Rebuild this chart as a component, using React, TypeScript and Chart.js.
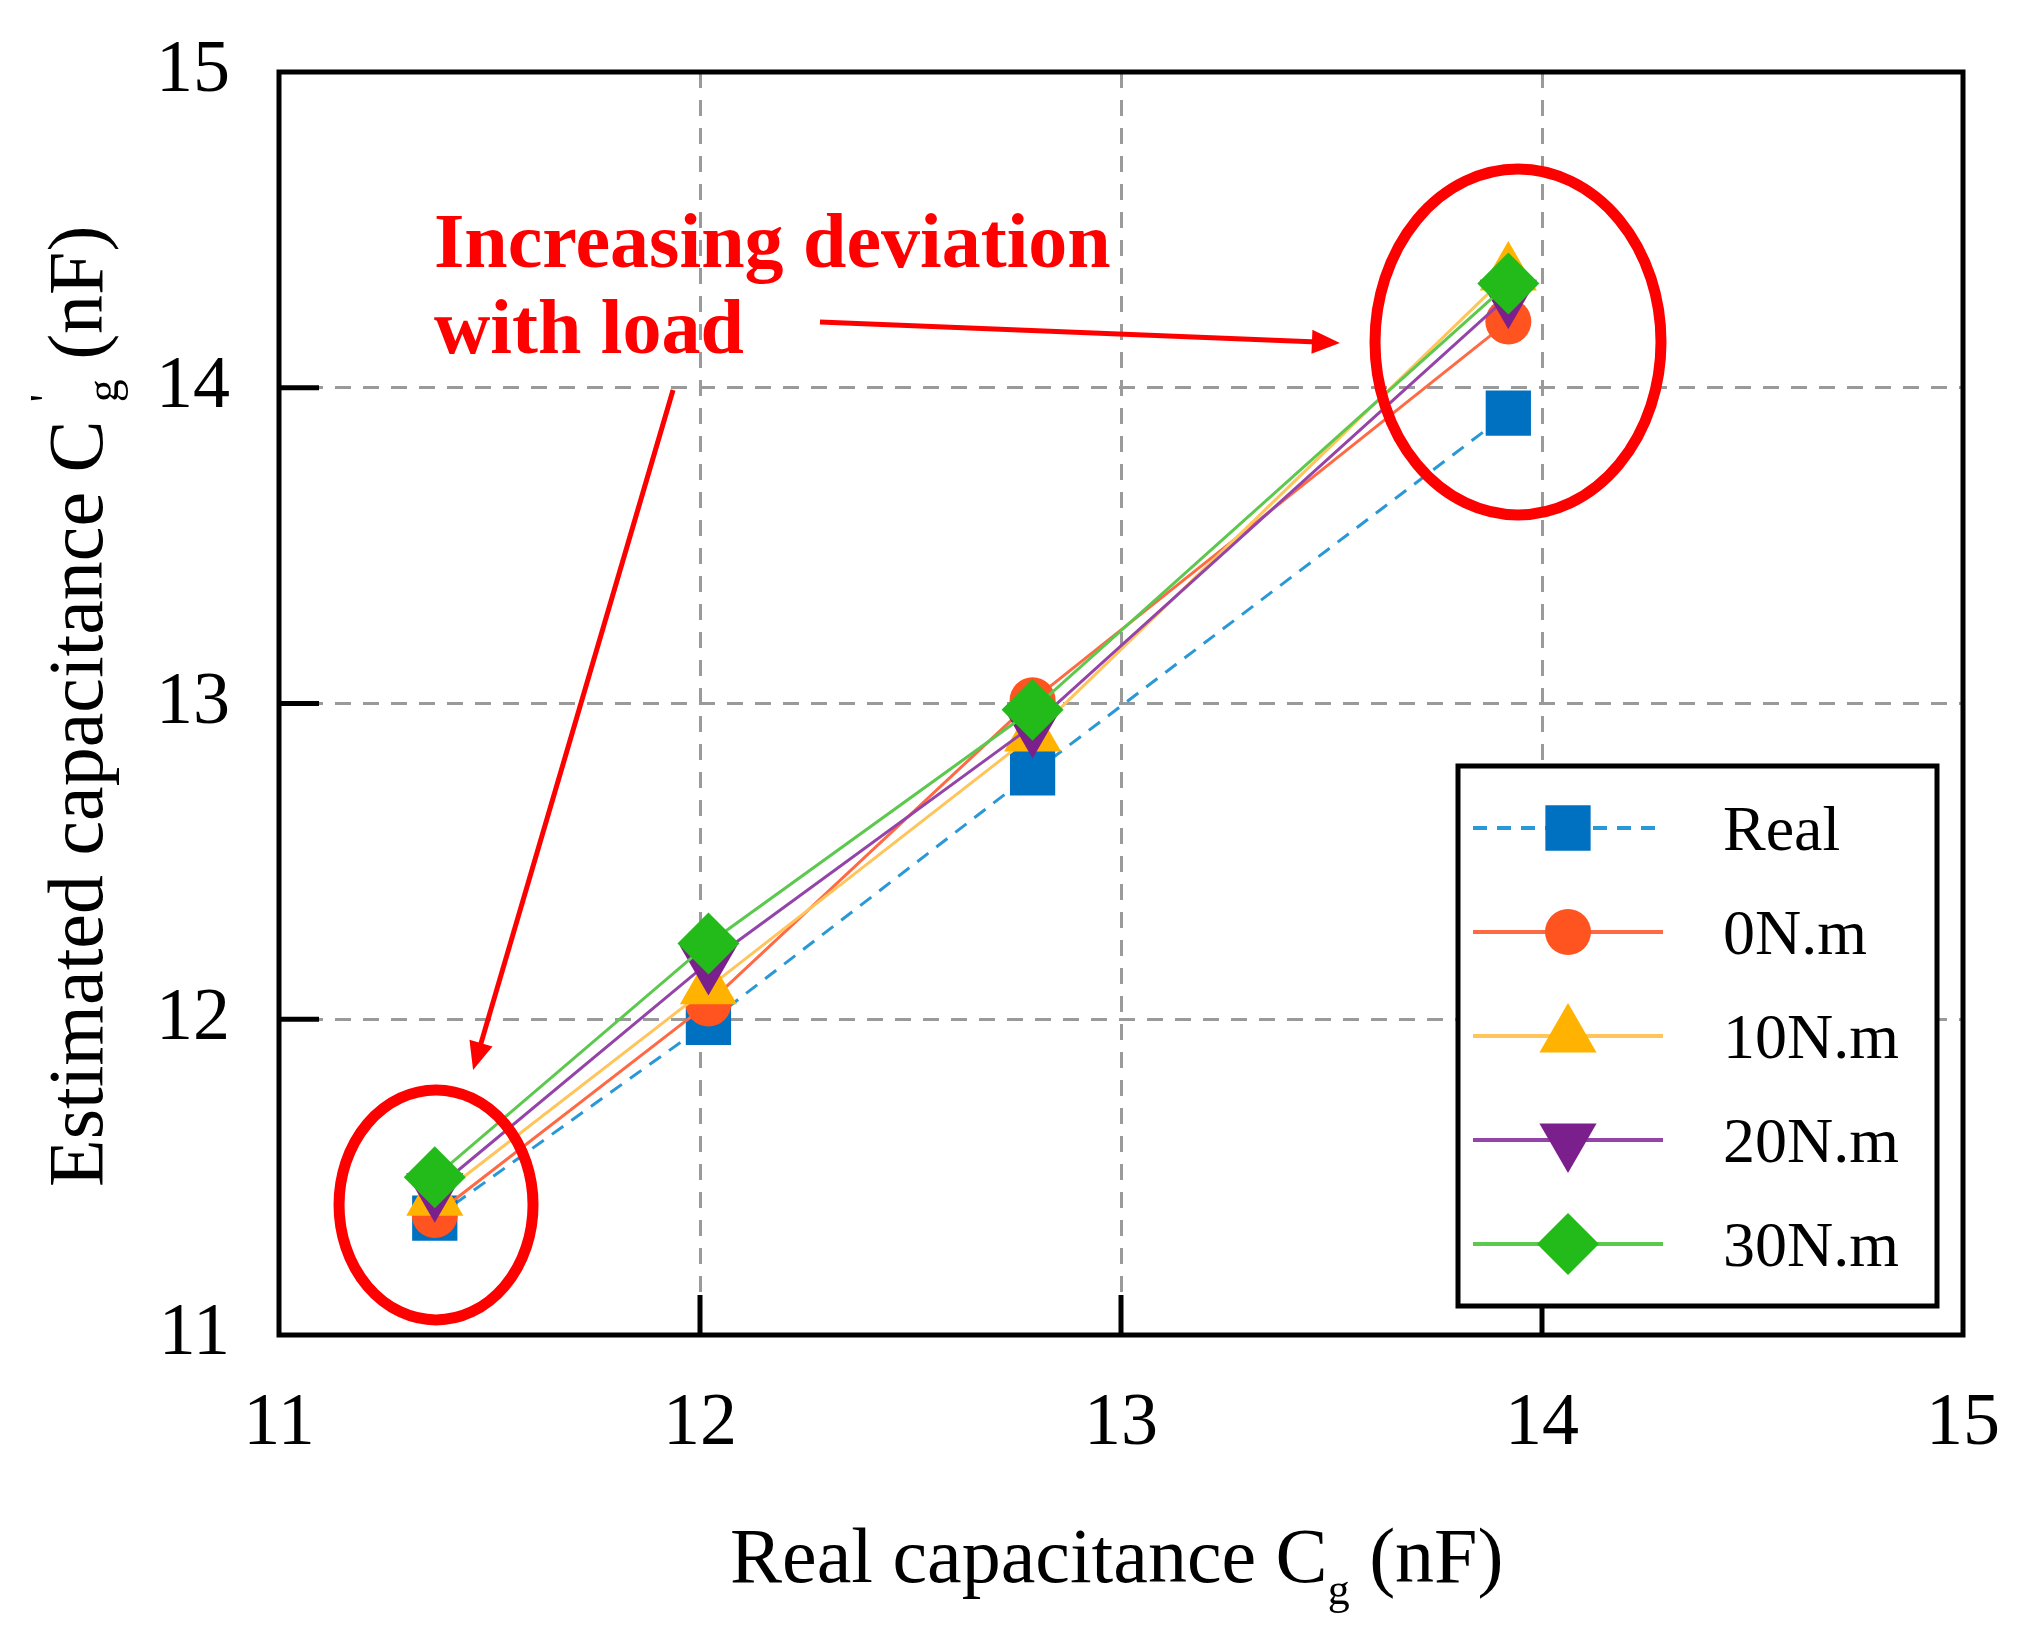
import { useEffect, useRef } from "react"
import { Chart, registerables } from "chart.js"
import { drawPoint } from "chart.js/helpers"

Chart.register(...registerables)

const FONT = "'Liberation Serif', 'Times New Roman', serif"

// x positions: real capacitance Cg (nF)
const realCap = [11.37, 12.02, 12.79, 13.92]
// estimated capacitance per load
const estReal = [11.37, 11.99, 12.78, 13.92]
const est0 = [11.38, 12.05, 13.01, 14.21]
const est10 = [11.43, 12.1, 12.9, 14.36]
const est20 = [11.46, 12.18, 12.93, 14.29]
const est30 = [11.5, 12.24, 12.98, 14.33]

const seriesLabels = ["Real", "0N.m", "10N.m", "20N.m", "30N.m"]
const axisTicks = [11, 12, 13, 14, 15]

// annotation anchors in data units
const ellipses = [
  { x: 11.373, y: 11.412, rx: 97, ry: 115 },
  { x: 13.943, y: 14.145, rx: 143, ry: 173 },
]
const arrows = [
  { from: [12.285, 14.208], to: [13.52, 14.142] },
  { from: [11.936, 13.993], to: [11.461, 11.839] },
]
const noteLines = ["Increasing deviation", "with load"]
const noteAnchor = { x: 11.368, y: 14.382 }

const pts = (ys: number[]) => realCap.map((x, i) => ({ x, y: ys[i] }))

type Part =
  | { t: string; size: number; dy?: number }
  | { sup: string; sub: string; size: number; supDy: number; subDy: number; gap?: number }

function drawRich(ctx: CanvasRenderingContext2D, parts: Part[], x: number, y: number) {
  let cx = x
  for (const p of parts) {
    if ("t" in p) {
      ctx.font = `${p.size}px ${FONT}`
      ctx.fillText(p.t, cx, y + (p.dy || 0))
      cx += ctx.measureText(p.t).width
    } else {
      cx += p.gap || 0
      ctx.font = `${p.size}px ${FONT}`
      ctx.fillText(p.sup, cx, y + p.supDy)
      ctx.fillText(p.sub, cx, y + p.subDy)
      cx += Math.max(ctx.measureText(p.sup).width, ctx.measureText(p.sub).width)
    }
  }
}

function arrow(ctx: CanvasRenderingContext2D, x1: number, y1: number, x2: number, y2: number) {
  const a = Math.atan2(y2 - y1, x2 - x1)
  const len = 28
  const hw = 12
  ctx.beginPath()
  ctx.moveTo(x1, y1)
  ctx.lineTo(x2 - Math.cos(a) * len * 0.8, y2 - Math.sin(a) * len * 0.8)
  ctx.stroke()
  ctx.beginPath()
  ctx.moveTo(x2, y2)
  ctx.lineTo(x2 - Math.cos(a) * len - Math.sin(a) * hw, y2 - Math.sin(a) * len + Math.cos(a) * hw)
  ctx.lineTo(x2 - Math.cos(a) * len + Math.sin(a) * hw, y2 - Math.sin(a) * len - Math.cos(a) * hw)
  ctx.closePath()
  ctx.fill()
}

const decorations = {
  id: "decorations",
  afterDraw(chart: any) {
    const { ctx, chartArea: a } = chart
    const xs = chart.scales.x
    const ys = chart.scales.y
    ctx.save()

    // inward ticks
    ctx.strokeStyle = "#000"
    ctx.lineWidth = 5
    ctx.setLineDash([])
    xs.ticks.forEach((t: any) => {
      if (t.value <= xs.min || t.value >= xs.max) return
      const px = xs.getPixelForValue(t.value)
      ctx.beginPath()
      ctx.moveTo(px, a.bottom)
      ctx.lineTo(px, a.bottom - 40)
      ctx.stroke()
    })
    ys.ticks.forEach((t: any) => {
      if (t.value <= ys.min || t.value >= ys.max) return
      const py = ys.getPixelForValue(t.value)
      ctx.beginPath()
      ctx.moveTo(a.left, py)
      ctx.lineTo(a.left + 40, py)
      ctx.stroke()
    })
    ctx.strokeRect(a.left, a.top, a.right - a.left, a.bottom - a.top)

    // red annotations
    ctx.strokeStyle = "#ff0000"
    ctx.fillStyle = "#ff0000"
    ctx.lineWidth = 11
    ellipses.forEach((e) => {
      ctx.beginPath()
      ctx.ellipse(xs.getPixelForValue(e.x), ys.getPixelForValue(e.y), e.rx, e.ry, 0, 0, Math.PI * 2)
      ctx.stroke()
    })
    ctx.lineWidth = 5
    arrows.forEach((r) => {
      arrow(
        ctx,
        xs.getPixelForValue(r.from[0]),
        ys.getPixelForValue(r.from[1]),
        xs.getPixelForValue(r.to[0]),
        ys.getPixelForValue(r.to[1])
      )
    })
    ctx.font = `bold 78px ${FONT}`
    ctx.textAlign = "left"
    ctx.textBaseline = "alphabetic"
    const nx = xs.getPixelForValue(noteAnchor.x)
    const ny = ys.getPixelForValue(noteAnchor.y)
    noteLines.forEach((s, i) => ctx.fillText(s, nx, ny + i * 86))

    // legend
    const box = { l: 1458, t: 766, r: 1937, b: 1306 }
    ctx.fillStyle = "#fff"
    ctx.fillRect(box.l, box.t, box.r - box.l, box.b - box.t)
    ctx.strokeStyle = "#000"
    ctx.lineWidth = 5
    ctx.strokeRect(box.l, box.t, box.r - box.l, box.b - box.t)
    chart.data.datasets.forEach((ds: any, i: number) => {
      const cy = 828 + i * 104
      ctx.strokeStyle = ds.borderColor
      ctx.lineWidth = 4
      ctx.setLineDash(ds.borderDash || [])
      ctx.beginPath()
      ctx.moveTo(1473, cy)
      ctx.lineTo(1663, cy)
      ctx.stroke()
      ctx.setLineDash([])
      ctx.fillStyle = ds.pointBackgroundColor
      drawPoint(ctx, { pointStyle: ds.pointStyle, radius: ds.pointRadius, rotation: ds.pointRotation || 0, borderWidth: 0 }, 1568, cy)
      ctx.fillStyle = "#000"
      ctx.font = `64px ${FONT}`
      ctx.fillText(ds.label, 1723, cy + 22)
    })

    // axis titles
    ctx.fillStyle = "#000"
    drawRich(ctx, [
      { t: "Real capacitance C", size: 78 },
      { t: "g", size: 44, dy: 22 },
      { t: " (nF)", size: 78 },
    ], 730, 1582)
    ctx.save()
    ctx.translate(102, 1187)
    ctx.rotate(-Math.PI / 2)
    drawRich(ctx, [
      { t: "Estimated capacitance C", size: 78 },
      { sup: "'", sub: "g", size: 46, supDy: -40, subDy: 16, gap: 18 },
      { t: " (nF)", size: 78 },
    ], 0, 0)
    ctx.restore()

    ctx.restore()
  },
}

export default function App() {
  const canvasRef = useRef<HTMLCanvasElement>(null)
  const chartRef = useRef<Chart | null>(null)

  useEffect(() => {
    if (!canvasRef.current) return
    if (chartRef.current) chartRef.current.destroy()

    const axisFont = { family: FONT, size: 74 }
    const grid = { color: "#9a9a9a", lineWidth: 3, drawTicks: false }
    const border = { display: false, dash: [16, 12] }
    const noOverflow = (s: any) => {
      s.paddingTop = 0
      s.paddingBottom = 0
      s.paddingLeft = 0
      s.paddingRight = 0
    }

    chartRef.current = new Chart(canvasRef.current, {
      type: "line",
      data: {
        datasets: [
          {
            label: seriesLabels[0],
            data: pts(estReal),
            borderColor: "#2a98d6",
            borderWidth: 3,
            borderDash: [14, 10],
            pointStyle: "rect",
            pointRadius: 32,
            pointBackgroundColor: "#0070c0",
            pointBorderWidth: 0,
            order: 5,
          },
          {
            label: seriesLabels[1],
            data: pts(est0),
            borderColor: "#ff6a45",
            borderWidth: 3,
            pointStyle: "circle",
            pointRadius: 23,
            pointBackgroundColor: "#ff5420",
            pointBorderWidth: 0,
            order: 4,
          },
          {
            label: seriesLabels[2],
            data: pts(est10),
            borderColor: "#ffc45a",
            borderWidth: 3,
            pointStyle: "triangle",
            pointRadius: 33,
            pointBackgroundColor: "#ffb300",
            pointBorderWidth: 0,
            order: 3,
          },
          {
            label: seriesLabels[3],
            data: pts(est20),
            borderColor: "#9444a8",
            borderWidth: 3,
            pointStyle: "triangle",
            pointRotation: 180,
            pointRadius: 33,
            pointBackgroundColor: "#7b1f8c",
            pointBorderWidth: 0,
            order: 2,
          },
          {
            label: seriesLabels[4],
            data: pts(est30),
            borderColor: "#5cc84e",
            borderWidth: 3,
            pointStyle: "rectRot",
            pointRadius: 31,
            pointBackgroundColor: "#22bb1a",
            pointBorderWidth: 0,
            order: 1,
          },
        ],
      },
      options: {
        animation: false,
        responsive: true,
        maintainAspectRatio: false,
        layout: { padding: { left: 0, top: 72, right: 63, bottom: 0 } },
        plugins: { legend: { display: false }, tooltip: { enabled: false } },
        elements: { line: { tension: 0 } },
        scales: {
          x: {
            type: "linear",
            min: axisTicks[0],
            max: axisTicks[axisTicks.length - 1],
            afterBuildTicks: (s: any) => {
              s.ticks = axisTicks.map((v) => ({ value: v }))
            },
            ticks: { font: axisFont, color: "#000", padding: 45, maxRotation: 0 },
            grid,
            border,
            afterFit: (s: any) => {
              s.height = 303
              noOverflow(s)
            },
          },
          y: {
            type: "linear",
            min: axisTicks[0],
            max: axisTicks[axisTicks.length - 1],
            afterBuildTicks: (s: any) => {
              s.ticks = axisTicks.map((v) => ({ value: v }))
            },
            ticks: { font: axisFont, color: "#000", padding: 49 },
            grid,
            border,
            afterFit: (s: any) => {
              s.width = 279
              noOverflow(s)
            },
          },
        },
      },
      plugins: [decorations],
    })

    return () => {
      if (chartRef.current) {
        chartRef.current.destroy()
        chartRef.current = null
      }
    }
  }, [])

  return (
    <div style={{ position: "absolute", left: 0, top: 0, width: 2026, height: 1638, background: "#fff" }}>
      <canvas ref={canvasRef} />
    </div>
  )
}
